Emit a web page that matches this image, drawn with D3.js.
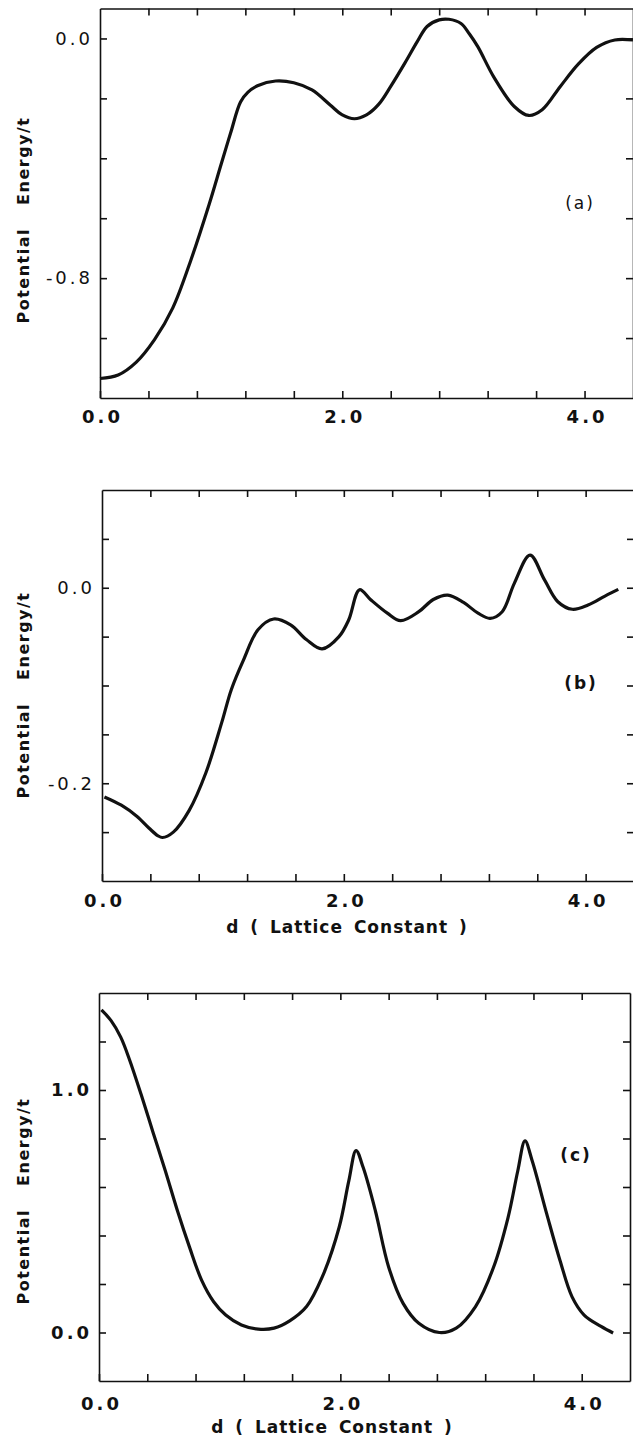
<!DOCTYPE html>
<html>
<head>
<meta charset="utf-8">
<script src="https://cdn.jsdelivr.net/npm/d3@7"></script>
<style>
  body { margin: 0; background: #fff; }
  svg { display: block; }
  .tick text { fill: #111; }
</style>
</head>
<body>
<div id="chart"></div>
<script>
// panel (a)
let dA = [0, 0.15, 0.3, 0.45, 0.6, 0.75, 0.9, 1.0, 1.08, 1.16, 1.22, 1.3, 1.45, 1.6, 1.75, 1.9, 2.0, 2.1, 2.2, 2.3,
    2.4, 2.52, 2.62, 2.7, 2.8, 2.88, 2.98, 3.05, 3.12, 3.25, 3.42, 3.54, 3.65, 3.8, 3.95, 4.1, 4.25, 4.4];
let eA = [-1.135, -1.123, -1.08, -1.005, -0.9, -0.74, -0.555, -0.42, -0.313, -0.212, -0.18, -0.158, -0.142, -0.148,
    -0.172, -0.222, -0.255, -0.268, -0.255, -0.22, -0.16, -0.08, -0.01, 0.04, 0.062, 0.064, 0.05, 0.015, -0.028,
    -0.128, -0.227, -0.257, -0.238, -0.16, -0.085, -0.03, -0.005, -0.005];

// panel (b)
let dB = [0.02, 0.16, 0.29, 0.39, 0.46, 0.5, 0.59, 0.72, 0.86, 0.99, 1.07, 1.17, 1.29, 1.42, 1.56, 1.69, 1.82, 1.96,
    2.04, 2.13, 2.22, 2.36, 2.47, 2.62, 2.74, 2.86, 2.99, 3.11, 3.21, 3.31, 3.41, 3.54, 3.66, 3.77, 3.89, 4.02, 4.16,
    4.27];
let eB = [-0.214, -0.2225, -0.234, -0.246, -0.2535, -0.2555, -0.25, -0.228, -0.189, -0.138, -0.104, -0.074, -0.043,
    -0.032, -0.038, -0.053, -0.0626, -0.05, -0.033, -0.002, -0.012, -0.026, -0.0337, -0.0245, -0.012, -0.0075,
    -0.015, -0.026, -0.0313, -0.0245, 0.0045, 0.0334, 0.008, -0.0143, -0.022, -0.0177, -0.0085, -0.0017];

// panel (c)
let dC = [0.02, 0.1, 0.18, 0.25, 0.35, 0.45, 0.55, 0.65, 0.75, 0.85, 0.95, 1.05, 1.18, 1.32, 1.45, 1.58, 1.72, 1.85,
    1.99, 2.07, 2.13, 2.19, 2.29, 2.4, 2.52, 2.65, 2.82, 2.96, 3.12, 3.27, 3.39, 3.47, 3.53, 3.59, 3.71, 3.82, 3.92,
    4.02, 4.16, 4.26];
let eC = [1.33, 1.286, 1.218, 1.129, 0.98, 0.822, 0.666, 0.502, 0.352, 0.216, 0.127, 0.072, 0.031, 0.014, 0.018,
    0.048, 0.107, 0.229, 0.434, 0.625, 0.75, 0.679, 0.502, 0.27, 0.12, 0.038, 0.0, 0.018, 0.107, 0.27, 0.475, 0.666,
    0.79, 0.707, 0.489, 0.297, 0.147, 0.072, 0.025, -0.002];

// ticks
let xTicks = [0.4, 0.8, 1.2, 1.6, 2.0, 2.4, 2.8, 3.2, 3.6, 4.0];
let xLabels = [0, 2, 4];
let yTicksA = [-1.0, -0.8, -0.6, -0.4, -0.2, 0.0];
let yLabelsA = [0.0, -0.8];
let yTicksB = [-0.25, -0.2, -0.15, -0.1, -0.05, 0.0, 0.05];
let yLabelsB = [0.0, -0.2];
let yTicksC = [0.0, 0.2, 0.4, 0.6, 0.8, 1.0, 1.2];
let yLabelsC = [0.0, 1.0];

let yTitle = "Potential Energy/t";
let xTitle = "d ( Lattice Constant )";

let svg = d3.select("#chart").append("svg")
    .attr("width", 633)
    .attr("height", 1437);

function has(list, v) {
    return list.some((l) => Math.abs(l - v) < 1e-9);
}

function fmt(v) {
    return (v < -1e-9 ? "-" : "") + Math.abs(v).toFixed(1);
}

function drawPanel(p) {
    let xScale = d3.scaleLinear().domain([0, 4.4]).range([p.left, p.right]);
    let yScale = d3.scaleLinear().domain(p.yDomain).range([p.bottom, p.top]);

    let g = svg.append("g");

    let bottom = g.append("g")
        .attr("transform", "translate(0," + p.bottom + ")")
        .call(d3.axisBottom(xScale).tickValues([0].concat(xTicks)).tickSize(-7).tickSizeOuter(0)
            .tickPadding(p.xPad).tickFormat((d) => has(xLabels, d) ? d.toFixed(1) : ""));
    bottom.selectAll("text")
        .attr("dx", "2px")
        .style("font-family", "DejaVu Sans")
        .style("font-size", "18px")
        .style("font-weight", "bold")
        .style("letter-spacing", "3px");

    g.append("g")
        .attr("transform", "translate(0," + p.top + ")")
        .call(d3.axisTop(xScale).tickValues(xTicks).tickSize(-7).tickSizeOuter(0).tickFormat(""));

    let left = g.append("g")
        .attr("transform", "translate(" + p.left + ",0)")
        .call(d3.axisLeft(yScale).tickValues(p.yTicks).tickSize(-7).tickSizeOuter(0)
            .tickPadding(7).tickFormat((d) => has(p.yLabels, d) ? fmt(d) : ""));
    left.selectAll("text")
        .style("font-family", "DejaVu Sans")
        .style("font-size", "18px")
        .style("font-weight", p.yWeight)
        .style("letter-spacing", "3px");

    g.append("g")
        .attr("transform", "translate(" + p.right + ",0)")
        .call(d3.axisRight(yScale).tickValues(p.yTicks).tickSize(-7).tickSizeOuter(0).tickFormat(""));

    g.selectAll(".domain, .tick line")
        .attr("stroke", "#111")
        .attr("stroke-width", 1.6);

    let pts = p.d.map((d, i) => [d, p.e[i]]);
    g.append("path")
        .datum(pts)
        .attr("fill", "none")
        .attr("stroke", "#111")
        .attr("stroke-width", 3.2)
        .attr("stroke-linejoin", "round")
        .attr("d", d3.line()
            .x((d) => xScale(d[0]))
            .y((d) => yScale(d[1]))
            .curve(d3.curveCatmullRom.alpha(0.5)));

    g.append("text")
        .attr("transform", "translate(" + 29 + "," + p.titleY + ") rotate(-90)")
        .attr("text-anchor", "middle")
        .style("font-family", "DejaVu Sans")
        .style("font-size", "16px")
        .style("font-weight", "bold")
        .style("letter-spacing", "1.5px")
        .style("word-spacing", "16px")
        .attr("fill", "#111")
        .text(yTitle);

    g.append("text")
        .attr("x", p.tagX)
        .attr("y", p.tagY)
        .attr("text-anchor", "middle")
        .style("font-family", "DejaVu Sans")
        .style("font-size", "17px")
        .style("font-weight", p.tagWeight)
        .style("letter-spacing", "2px")
        .attr("fill", "#111")
        .text(p.tag);

    if (p.xTitleY) {
        g.append("text")
            .attr("x", p.xTitleX)
            .attr("y", p.xTitleY)
            .attr("text-anchor", "middle")
            .style("font-family", "DejaVu Sans")
            .style("font-size", "17px")
            .style("font-weight", "bold")
            .style("letter-spacing", "1px")
            .style("word-spacing", "4px")
            .attr("fill", "#111")
            .text(xTitle);
    }
}

drawPanel({d: dA, e: eA, yDomain: [-1.2, 0.1], yTicks: yTicksA, yLabels: yLabelsA,
    left: 100, right: 633, top: 8.5, bottom: 398, xPad: 12, yWeight: "normal",
    titleY: 220, tag: "(a)", tagX: 580, tagY: 209, tagWeight: "normal"});

drawPanel({d: dB, e: eB, yDomain: [-0.3, 0.1], yTicks: yTicksB, yLabels: yLabelsB,
    left: 102, right: 634, top: 490, bottom: 881, xPad: 13, yWeight: "normal",
    titleY: 695, tag: "(b)", tagX: 581, tagY: 689, tagWeight: "bold",
    xTitleX: 347, xTitleY: 933});

drawPanel({d: dC, e: eC, yDomain: [-0.2, 1.4], yTicks: yTicksC, yLabels: yLabelsC,
    left: 99, right: 630, top: 993, bottom: 1381, xPad: 16, yWeight: "bold",
    titleY: 1201, tag: "(c)", tagX: 576, tagY: 1161, tagWeight: "bold",
    xTitleX: 332, xTitleY: 1433});
</script>
</body>
</html>
